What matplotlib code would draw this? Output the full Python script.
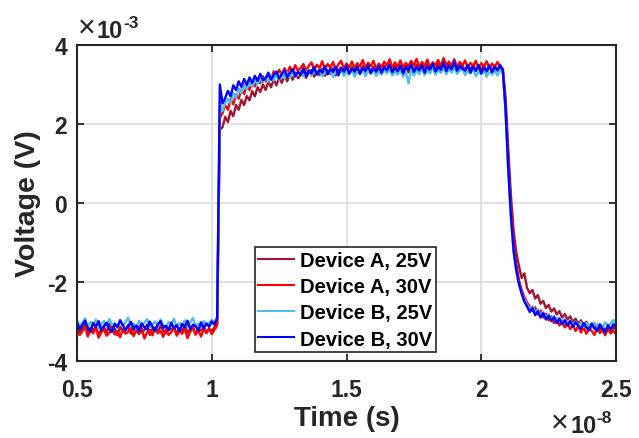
import numpy as np
import matplotlib
matplotlib.use("Agg")
import matplotlib.pyplot as plt
from matplotlib.ticker import FuncFormatter

plt.rcParams['font.family'] = ['Liberation Sans', 'DejaVu Sans']
plt.rcParams['font.weight'] = 'bold'
plt.rcParams['axes.unicode_minus'] = False

# sample times, in units of 1e-8 s (0.50 ... 2.50, step 0.01)
time_1e8 = np.linspace(0.5, 2.5, 201)

labels = ["Device A, 25V", "Device A, 30V", "Device B, 25V", "Device B, 30V"]
colors = ["#A2142F", "#FF0000", "#4DBEEE", "#0000FF"]

x_ticks = [0.5, 1.0, 1.5, 2.0, 2.5]   # x 1e-8 s
y_ticks = [-4, -2, 0, 2, 4]           # x 1e-3 V

# voltages in units of 1e-3 V
devA_25V = [
    -3.12,-3.27,-3.19,-3.08,-3.30,-3.16,-3.24,-3.11,-3.33,-3.21,
    -3.14,-3.29,-3.06,-3.23,-3.18,-3.35,-3.13,-3.26,-3.20,-3.09,
    -3.31,-3.17,-3.25,-3.12,-3.28,-3.22,-3.07,-3.34,-3.19,-3.15,
    -3.27,-3.10,-3.24,-3.30,-3.16,-3.21,-3.13,-3.32,-3.18,-3.25,
    -3.09,-3.28,-3.20,-3.14,-3.33,-3.17,-3.23,-3.11,-3.29,-3.19,
    -3.24,-3.15,-3.05,
    1.85,
    1.92,2.18,2.05,2.33,2.20,2.48,2.36,2.61,2.48,2.71,
    2.60,2.83,2.70,2.93,2.81,3.00,2.86,3.08,2.93,3.13,
    2.98,3.18,3.04,3.23,3.08,3.27,3.12,3.30,3.16,3.24,
    3.34,3.17,3.30,3.37,3.20,3.33,3.24,3.40,3.22,3.36,
    3.27,3.41,3.23,3.37,3.43,3.26,3.39,3.29,3.44,3.25,
    3.40,3.31,3.46,3.27,3.41,3.32,3.45,3.28,3.42,3.33,
    3.47,3.29,3.43,3.34,3.48,3.30,3.44,3.35,3.49,3.31,
    3.45,3.36,3.50,3.32,3.46,3.37,3.51,3.33,3.47,3.38,
    3.52,3.34,3.48,3.39,3.53,3.35,3.49,3.40,3.36,3.50,
    3.33,3.47,3.38,3.51,3.34,3.46,3.37,3.49,3.32,3.45,
    3.36,3.48,3.35,3.46,
    3.38,2.70,1.40,0.20,-0.70,-1.25,-1.60,-1.90,-1.78,-2.15,
    -2.28,-2.20,-2.42,-2.33,-2.55,-2.48,-2.66,-2.58,-2.75,-2.67,
    -2.82,-2.74,-2.90,-2.81,-2.95,-2.87,-3.01,-2.93,-3.06,-2.97,
    -3.10,-3.01,-3.14,-3.05,-3.18,-3.08,-3.21,-3.11,-3.24,-3.13,
    -3.25,-3.15,-3.20,
]

devA_30V = [
    -3.18,-3.34,-3.25,-3.12,-3.38,-3.22,-3.30,-3.15,-3.41,-3.27,
    -3.20,-3.36,-3.29,-3.14,-3.33,-3.24,-3.40,-3.19,-3.31,-3.26,
    -3.13,-3.37,-3.22,-3.32,-3.17,-3.43,-3.28,-3.21,-3.35,-3.16,
    -3.30,-3.24,-3.39,-3.18,-3.34,-3.27,-3.14,-3.36,-3.23,-3.31,
    -3.19,-3.42,-3.26,-3.15,-3.33,-3.22,-3.38,-3.20,-3.29,-3.17,
    -3.32,-3.21,-3.10,
    2.15,
    2.28,2.48,2.36,2.63,2.50,2.75,2.64,2.87,2.76,2.98,
    2.86,3.07,2.95,3.15,3.03,3.21,3.08,3.27,3.13,3.33,
    3.20,3.37,3.25,3.41,3.28,3.45,3.31,3.49,3.34,3.42,
    3.52,3.35,3.47,3.56,3.37,3.50,3.41,3.59,3.39,3.52,
    3.42,3.57,3.38,3.51,3.60,3.40,3.53,3.43,3.58,3.41,
    3.54,3.45,3.62,3.42,3.55,3.46,3.60,3.40,3.53,3.44,
    3.58,3.47,3.64,3.43,3.56,3.45,3.61,3.42,3.55,3.46,
    3.60,3.48,3.65,3.44,3.57,3.47,3.63,3.43,3.56,3.49,
    3.62,3.45,3.67,3.50,3.58,3.47,3.64,3.44,3.57,3.48,
    3.61,3.42,3.55,3.46,3.60,3.40,3.54,3.45,3.59,3.41,
    3.53,3.44,3.57,3.46,
    3.40,2.50,1.10,-0.10,-1.00,-1.55,-1.95,-2.20,-2.38,-2.52,
    -2.62,-2.74,-2.64,-2.82,-2.72,-2.90,-2.80,-2.97,-2.87,-3.04,
    -2.92,-3.10,-2.98,-3.15,-3.04,-3.19,-3.08,-3.24,-3.11,-3.28,
    -3.14,-3.31,-3.18,-3.24,-3.34,-3.16,-3.29,-3.21,-3.35,-3.18,
    -3.30,-3.23,-3.32,
]

devB_25V = [
    -2.97,-3.12,-3.03,-2.92,-3.15,-3.01,-3.08,-2.95,-3.18,-3.06,
    -2.99,-3.14,-2.93,-3.09,-3.04,-3.17,-2.96,-3.11,-3.02,-2.90,
    -3.13,-3.05,-3.19,-2.98,-3.10,-3.03,-2.94,-3.16,-3.07,-3.00,
    -3.12,-2.95,-3.09,-3.15,-3.01,-3.06,-2.93,-3.14,-3.04,-3.10,
    -2.97,-3.13,-3.02,-2.91,-3.11,-3.05,-3.16,-2.99,-3.08,-3.03,
    -2.96,-3.02,-2.88,
    2.55,
    2.33,2.52,2.64,2.53,2.78,2.66,2.90,2.78,2.99,2.88,
    3.07,2.94,3.12,3.00,3.17,3.04,3.20,3.07,3.23,3.10,
    3.26,3.12,3.28,3.15,3.31,3.17,3.33,3.19,3.29,3.35,
    3.20,3.31,3.37,3.22,3.34,3.24,3.39,3.21,3.32,3.26,
    3.38,3.19,3.34,3.27,3.40,3.22,3.33,3.25,3.37,3.20,
    3.32,3.26,3.39,3.21,3.35,3.27,3.38,3.22,3.33,3.25,
    3.36,3.28,3.40,3.23,3.32,3.25,3.37,3.20,3.33,3.03,
    3.39,3.23,3.35,3.26,3.41,3.24,3.35,3.28,3.42,3.25,
    3.37,3.29,3.43,3.26,3.38,3.30,3.44,3.27,3.35,3.40,
    3.24,3.34,3.28,3.39,3.21,3.33,3.26,3.37,3.20,3.32,
    3.25,3.36,3.23,3.37,
    3.30,2.30,0.80,-0.40,-1.25,-1.72,-2.05,-2.28,-2.45,-2.58,
    -2.68,-2.61,-2.77,-2.69,-2.84,-2.76,-2.90,-2.81,-2.95,-2.86,
    -2.99,-2.90,-3.03,-2.94,-3.07,-2.97,-3.09,-3.00,-3.12,-3.02,
    -3.14,-3.04,-3.10,-3.16,-3.03,-3.12,-3.06,-3.17,-3.02,-3.11,
    -3.05,-2.96,-3.09,
]

devB_30V = [
    -3.02,-3.21,-3.08,-2.98,-3.17,-3.25,-3.04,-3.13,-2.99,-3.22,
    -3.11,-3.03,-3.19,-3.27,-3.06,-3.14,-2.97,-3.09,-3.23,-3.12,
    -3.01,-3.18,-3.10,-3.26,-3.05,-3.15,-3.20,-3.00,-3.13,-3.24,
    -3.07,-2.99,-3.16,-3.11,-3.22,-3.03,-3.18,-3.09,-3.25,-3.06,
    -3.14,-2.98,-3.20,-3.08,-3.12,-3.23,-3.02,-3.17,-3.05,-3.13,
    -3.00,-3.08,-2.92,
    3.00,
    2.52,2.66,2.84,2.70,2.98,2.86,3.08,2.94,3.14,2.99,
    3.18,3.04,3.22,3.09,3.27,3.11,3.16,3.30,3.12,3.24,
    3.33,3.15,3.26,3.36,3.19,3.29,3.39,3.21,3.32,3.25,
    3.41,3.22,3.35,3.28,3.44,3.25,3.37,3.30,3.46,3.26,
    3.39,3.32,3.45,3.23,3.41,3.33,3.48,3.28,3.40,3.34,
    3.46,3.27,3.42,3.35,3.49,3.29,3.41,3.33,3.47,3.30,
    3.44,3.36,3.50,3.31,3.42,3.34,3.48,3.28,3.45,3.37,
    3.51,3.32,3.43,3.36,3.49,3.30,3.46,3.38,3.53,3.33,
    3.45,3.37,3.56,3.34,3.47,3.39,3.58,3.35,3.48,3.40,
    3.36,3.50,3.30,3.45,3.35,3.49,3.28,3.43,3.34,3.48,
    3.31,3.44,3.37,3.49,
    3.35,2.40,0.90,-0.30,-1.20,-1.70,-2.05,-2.30,-2.50,-2.62,
    -2.76,-2.66,-2.84,-2.74,-2.90,-2.79,-2.95,-2.85,-2.99,-2.89,
    -3.04,-2.93,-3.07,-2.97,-3.10,-2.99,-3.14,-3.02,-3.11,-3.18,
    -3.04,-3.15,-3.22,-3.06,-3.17,-3.24,-3.08,-3.19,-3.28,-3.09,
    -3.20,-3.07,-3.15,
]

series = [devA_25V, devA_30V, devB_25V, devB_30V]

W, H = 639, 439
fig = plt.figure(figsize=(W / 100, H / 100), dpi=100)
ax = fig.add_axes([77 / W, (H - 362) / H, (616 - 77) / W, (362 - 46) / H])

t = time_1e8 * 1e-8
for vals, lab, col in zip(series, labels, colors):
    ax.plot(t, np.array(vals) * 1e-3, color=col, lw=1.7, label=lab)

ax.set_xlim(0.5e-8, 2.5e-8)
ax.set_ylim(-4e-3, 4e-3)
ax.set_xticks(np.array(x_ticks) * 1e-8)
ax.set_yticks(np.array(y_ticks) * 1e-3)
ax.xaxis.set_major_formatter(FuncFormatter(lambda v, p: f"{v / 1e-8:g}"))
ax.yaxis.set_major_formatter(FuncFormatter(lambda v, p: f"{round(v / 1e-3, 6):g}"))

ax.grid(True, color='#dcdcdc', lw=1.2)
ax.set_axisbelow(True)
ax.tick_params(direction='in', length=5, width=1.3, top=True, right=True,
               labelsize=16.5, colors='#262626')
ax.tick_params(axis='x', pad=12)
ax.tick_params(axis='y', pad=7)
for lab in ax.get_xticklabels() + ax.get_yticklabels():
    lab.set_fontweight('bold')
for sp in ax.spines.values():
    sp.set_color('#262626')
    sp.set_linewidth(1.5)

ax.set_xlabel("Time (s)", fontsize=20, fontweight='bold', color='#262626', labelpad=3)
ax.set_ylabel("Voltage (V)", fontsize=20.5, fontweight='bold', color='#262626', labelpad=4)

# exponent labels (MATLAB style)
def exponent(xp, yp, power):
    tr = fig.transFigure
    fig.text(xp / W, 1 - (yp - 1) / H, "\u00d7", fontsize=22, fontweight='normal',
             color='#262626', ha='left', va='baseline', transform=tr)
    fig.text((xp + 19) / W, 1 - yp / H, "10", fontsize=17, fontweight='bold',
             color='#262626', ha='left', va='baseline', transform=tr)
    fig.text((xp + 45) / W, 1 - (yp - 10) / H, power, fontsize=12.5, fontweight='bold',
             color='#262626', ha='left', va='baseline', transform=tr)

exponent(78, 38, "-3")
exponent(551, 433, "-8")

leg = ax.legend(loc='lower left', bbox_to_anchor=(0.330, 0.028), borderaxespad=0,
                fontsize=14.5, frameon=True, fancybox=False, handlelength=1.75,
                handletextpad=0.3, labelspacing=0.36, borderpad=0.18)
leg.get_frame().set_edgecolor('#262626')
leg.get_frame().set_linewidth(1.2)
leg.get_frame().set_alpha(1)
for txt in leg.get_texts():
    txt.set_fontweight('bold')
for line in leg.get_lines():
    line.set_linewidth(1.5)

fig.savefig("out.png", dpi=100)
